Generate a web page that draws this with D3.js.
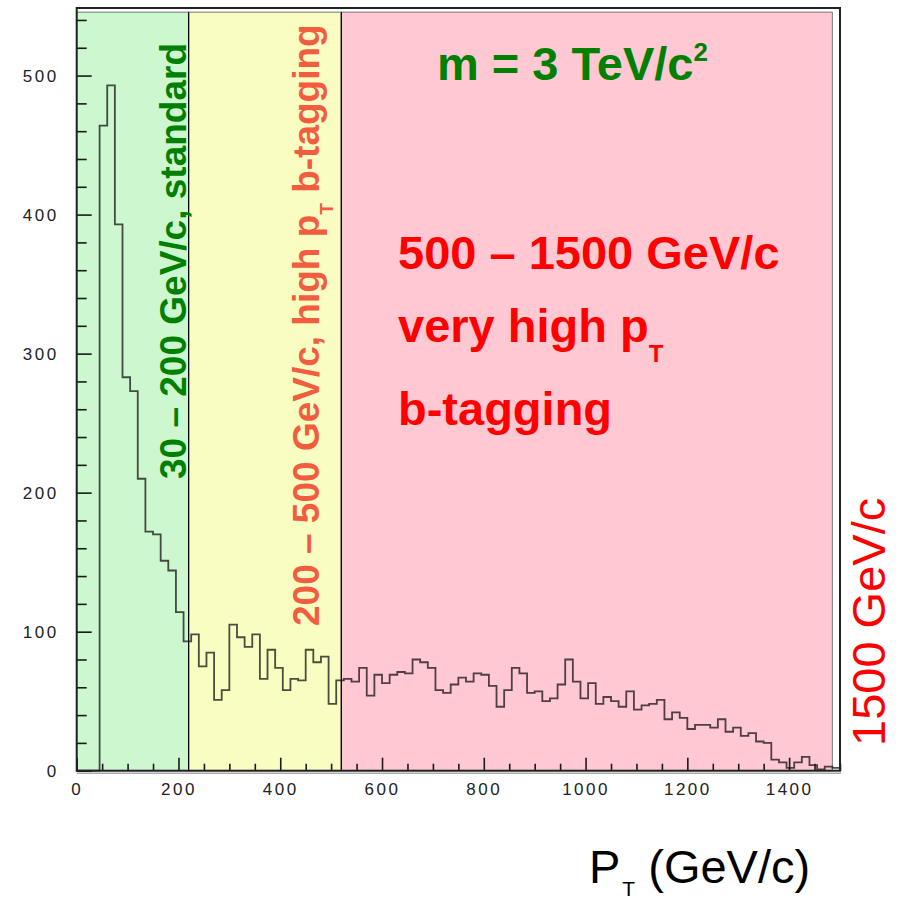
<!DOCTYPE html>
<html>
<head>
<meta charset="utf-8">
<script src="https://cdn.jsdelivr.net/npm/d3@7"></script>
<style>
  body { margin: 0; background: #fff; }
  text { font-family: "Liberation Sans", Arial, Helvetica, sans-serif; }
</style>
</head>
<body>
<script>
// histogram: 100 bins of 15 GeV/c from 0 to 1500
const binWidth = 15;
const counts = [
  0, 0, 0, 464, 493, 393, 283, 273, 210, 172,
  170, 151, 144, 114, 93, 98, 75, 85, 51, 58,
  105, 96, 89, 98, 66, 87, 74, 58, 66, 65,
  87, 78, 82, 48, 65, 66, 64, 74, 54, 69,
  63, 69, 71, 70, 80, 78, 74, 58, 56, 62,
  67, 64, 70, 69, 61, 46, 58, 74, 70, 56,
  57, 50, 52, 62, 80, 64, 52, 63, 48, 53,
  50, 46, 57, 44, 47, 48, 51, 37, 42, 38,
  30, 33, 33, 31, 37, 28, 31, 25, 27, 21,
  20, 8, 6, 2, 6, 10, 4, 1, 3, 2
];

const xTickValues = [0, 200, 400, 600, 800, 1000, 1200, 1400];
const yTickValues = [0, 100, 200, 300, 400, 500];

// pT regions
const regionEdges = [0, 220, 520, 1485];
const regionFills = ["#cdf7cf", "#f9fdc1", "#ffc8d3"];
const regionTop = 545.6;

const width = 901, height = 901;
const margin = { top: 8, right: 61, bottom: 130.3, left: 76.7 };

const svg = d3.select("body").append("svg")
  .attr("width", width)
  .attr("height", height);

const x = d3.scaleLinear()
  .domain([0, 1500])
  .range([margin.left, width - margin.right]);

const y = d3.scaleLinear()
  .domain([0, 548.6])
  .range([height - margin.bottom, margin.top]);

// coloured bands
svg.append("g")
  .selectAll("rect")
  .data(regionFills)
  .join("rect")
  .attr("x", (d, i) => x(regionEdges[i]))
  .attr("y", y(regionTop))
  .attr("width", (d, i) => x(regionEdges[i + 1]) - x(regionEdges[i]))
  .attr("height", y(0) - y(regionTop))
  .attr("fill", d => d)
  .attr("stroke", "#777")
  .attr("stroke-width", 1);

// black separators between bands
svg.append("g")
  .selectAll("line")
  .data(regionEdges.slice(1, 3))
  .join("line")
  .attr("x1", d => x(d)).attr("x2", d => x(d))
  .attr("y1", y(regionTop)).attr("y2", y(0))
  .attr("stroke", "#000")
  .attr("stroke-width", 1.2);

// histogram outline
const pts = counts.map((c, i) => [i * binWidth, c]);
pts.push([counts.length * binWidth, 0]);

svg.append("path")
  .datum(pts)
  .attr("fill", "none")
  .attr("stroke", "#111")
  .attr("stroke-opacity", 0.75)
  .attr("stroke-width", 1.8)
  .attr("d", d3.line()
    .x(d => x(d[0]))
    .y(d => y(d[1]))
    .curve(d3.curveStepAfter));

// axes
const xMinor = d3.range(0, 1501, 50).filter(v => v % 200 !== 0);
const yMinor = d3.range(0, 541, 20).filter(v => v % 100 !== 0);

const gx = svg.append("g").attr("transform", `translate(0,${y(0)})`);
gx.append("g").call(d3.axisBottom(x).tickValues(xMinor).tickSize(-7).tickSizeOuter(0).tickFormat(""));
gx.append("g").call(d3.axisBottom(x).tickValues(xTickValues).tickSize(-13).tickSizeOuter(0)
  .tickPadding(12).tickFormat(d3.format("d")));

const gy = svg.append("g").attr("transform", `translate(${x(0)},0)`);
gy.append("g").call(d3.axisLeft(y).tickValues(yMinor).tickSize(-10).tickSizeOuter(0).tickFormat(""));
gy.append("g").call(d3.axisLeft(y).tickValues(yTickValues).tickSize(-15).tickSizeOuter(0)
  .tickPadding(18).tickFormat(d3.format("d")));

svg.selectAll(".domain").remove();
svg.selectAll(".tick line").attr("stroke", "#1a1a1a").attr("stroke-width", 1.6);
svg.selectAll(".tick text")
  .attr("font-size", 17)
  .attr("fill", "#222")
  .style("letter-spacing", "2.5px");

// frame
svg.append("rect")
  .attr("x", x(0)).attr("y", y(548.6))
  .attr("width", x(1500) - x(0))
  .attr("height", y(0) - y(548.6))
  .attr("fill", "none")
  .attr("stroke", "#222")
  .attr("stroke-width", 2);
svg.append("line")
  .attr("x1", x(0)).attr("x2", x(1500) + 1)
  .attr("y1", y(0) + 2.5).attr("y2", y(0) + 2.5)
  .attr("stroke", "#aaa").attr("stroke-width", 1.5);

// annotations
const mass = svg.append("text")
  .attr("x", 437).attr("y", 80)
  .attr("font-size", 47).attr("font-weight", "bold")
  .attr("fill", "#008000");
mass.append("tspan").text("m = 3 TeV/c");
mass.append("tspan").attr("font-size", 26).attr("dy", -19).text("2");

const red = svg.append("g").attr("fill", "#ff0000")
  .attr("font-size", 47).attr("font-weight", "bold");
red.append("text").attr("x", 398).attr("y", 269).text("500 – 1500 GeV/c");
const vh = red.append("text").attr("x", 398).attr("y", 342);
vh.append("tspan").text("very high p");
vh.append("tspan").attr("font-size", 24).attr("dy", 20).text("T");
red.append("text").attr("x", 398).attr("y", 425).text("b-tagging");

svg.append("text")
  .attr("transform", "translate(186,479) rotate(-90)")
  .attr("font-size", 37).attr("font-weight", "bold")
  .attr("fill", "#008000")
  .text("30 – 200 GeV/c, standard");

const mid = svg.append("text")
  .attr("transform", "translate(319,626) rotate(-90)")
  .attr("font-size", 37).attr("font-weight", "bold")
  .attr("fill", "#f25c3f");
mid.append("tspan").text("200 – 500 GeV/c, high p");
mid.append("tspan").attr("font-size", 19).attr("dy", 14).text("T");
mid.append("tspan").attr("dy", -14).text(" b-tagging");

svg.append("text")
  .attr("transform", "translate(885,746) rotate(-90)")
  .attr("font-size", 47)
  .attr("fill", "#ff0000")
  .text("1500 GeV/c");

const title = svg.append("text")
  .attr("x", 589).attr("y", 883)
  .attr("font-size", 47)
  .attr("fill", "#000");
title.append("tspan").text("P");
title.append("tspan").attr("font-size", 21).attr("dx", 2).attr("dy", 13).text("T");
title.append("tspan").attr("dy", -13).text(" (GeV/c)");
</script>
</body>
</html>
